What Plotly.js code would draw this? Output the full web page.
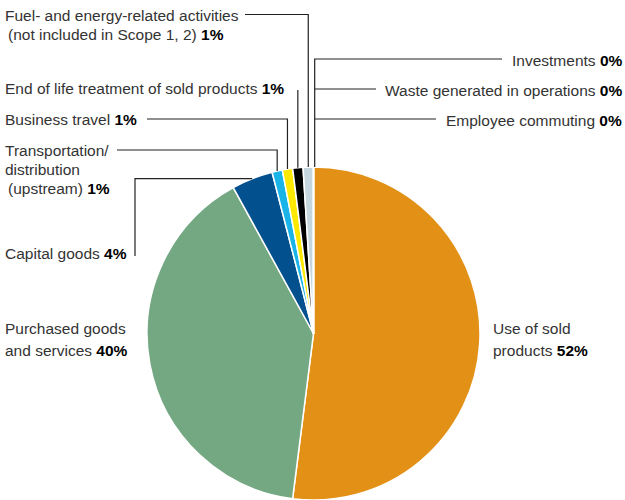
<!DOCTYPE html>
<html>
<head>
<meta charset="utf-8">
<script src="https://cdn.plot.ly/plotly-3.0.1.min.js"></script>
<style>
html,body{margin:0;padding:0;background:#fff;overflow:hidden;}
#chart{width:625px;height:500px;}
</style>
</head>
<body>
<div id="chart"></div>
<script>
// ---- data ----
const categories = [
  'Use of sold products',
  'Purchased goods and services',
  'Capital goods',
  'Transportation/distribution (upstream)',
  'Business travel',
  'End of life treatment of sold products',
  'Fuel- and energy-related activities (not included in Scope 1, 2)',
  'Employee commuting',
  'Waste generated in operations',
  'Investments'
];
const values = [52, 40, 4, 1, 1, 1, 1, 0, 0, 0];
const percentLabels = ['52%', '40%', '4%', '1%', '1%', '1%', '1%', '0%', '0%', '0%'];
const sliceColors = ['#E39016', '#73A883', '#03508E', '#1AB4E8', '#FFE900', '#000000', '#C6D6DF', '#C6D6DF', '#C6D6DF', '#C6D6DF'];

// ---- layout geometry ----
const W = 625, H = 500;
const domX = [147 / W, 480 / W];
const domY = [0, 1 - 167 / H];
const cx = (domX[0] + domX[1]) / 2 * W;
const cy = (1 - (domY[0] + domY[1]) / 2) * H;
const r = Math.min((domX[1] - domX[0]) * W, (domY[1] - domY[0]) * H) / 2;
const total = values.reduce((a, b) => a + b, 0);
function edgePoint(i) {
  let before = 0;
  for (let j = 0; j < i; j++) before += values[j];
  const ang = (before + values[i] / 2) / total * 2 * Math.PI; // clockwise from top
  return {x: cx + r * Math.sin(ang), y: cy - r * Math.cos(ang)};
}
const px = x => x / W;
const py = y => 1 - y / H;
function path(pts) {
  return pts.map((p, k) => (k ? 'L' : 'M') + px(p[0]).toFixed(5) + ',' + py(p[1]).toFixed(5)).join(' ');
}
const lineStyle = {color: '#222', width: 1.2};
const shapes = [];
function addPath(pts) {
  shapes.push({type: 'path', xref: 'paper', yref: 'paper', path: path(pts), line: lineStyle});
}
// Fuel
let P = edgePoint(6);
addPath([[245, 14.5], [P.x, 14.5], [P.x, P.y]]);
// End of life
P = edgePoint(5);
addPath([[P.x, 90], [P.x, P.y]]);
// Business travel
P = edgePoint(4);
addPath([[147, 119], [P.x, 119], [P.x, P.y]]);
// Transportation
P = edgePoint(3);
addPath([[117, 150], [P.x, 150], [P.x, P.y]]);
// Capital goods
P = edgePoint(2);
addPath([[135, 256], [135, P.y], [P.x, P.y]]);
// Zero-value group on the right
P = edgePoint(9);
const vx = P.x + 1.2;
addPath([[502, 59], [vx, 59], [vx, P.y]]);
addPath([[376, 89], [vx, 89]]);
addPath([[436, 119], [vx, 119]]);

// ---- annotations ----
const font = {family: 'Liberation Sans, Arial, sans-serif', size: 15.5, color: '#333'};
const annotations = [];
function ann(x, y, text, anchor) {
  annotations.push({xref: 'paper', yref: 'paper', x: px(x), y: py(y), text: text,
    xanchor: anchor || 'left', yanchor: 'middle', showarrow: false, font: font, borderpad: 0});
}
const pb = i => ' <b style="color:#000">' + percentLabels[i] + '</b>';
ann(4, 15, 'Fuel- and energy-related activities');
ann(7, 34, '(not included in Scope 1, 2)' + pb(6));
ann(4, 89, 'End of life treatment of sold products' + pb(5));
ann(4, 119, 'Business travel' + pb(4));
ann(4, 150, 'Transportation/');
ann(4, 169, 'distribution');
ann(7, 188, '(upstream)' + pb(3));
ann(4, 253, 'Capital goods' + pb(2));
ann(4, 328, 'Purchased goods');
ann(4, 350, 'and services' + pb(1));
ann(492, 328, 'Use of sold');
ann(492, 350, 'products' + pb(0));
ann(623, 60.5, 'Investments' + pb(9), 'right');
ann(623, 90.5, 'Waste generated in operations' + pb(8), 'right');
ann(623, 120.5, 'Employee commuting' + pb(7), 'right');

const trace = {
  type: 'pie',
  labels: categories,
  values: values,
  sort: false,
  direction: 'clockwise',
  rotation: 0,
  textinfo: 'none',
  hoverinfo: 'none',
  showlegend: false,
  marker: {colors: sliceColors, line: {color: '#ffffff', width: 1.5}},
  domain: {x: domX, y: domY}
};

const layout = {
  width: W, height: H,
  margin: {l: 0, r: 0, t: 0, b: 0},
  paper_bgcolor: '#ffffff',
  showlegend: false,
  shapes: shapes,
  annotations: annotations
};

Plotly.newPlot('chart', [trace], layout, {displayModeBar: false, staticPlot: true});
</script>
</body>
</html>
